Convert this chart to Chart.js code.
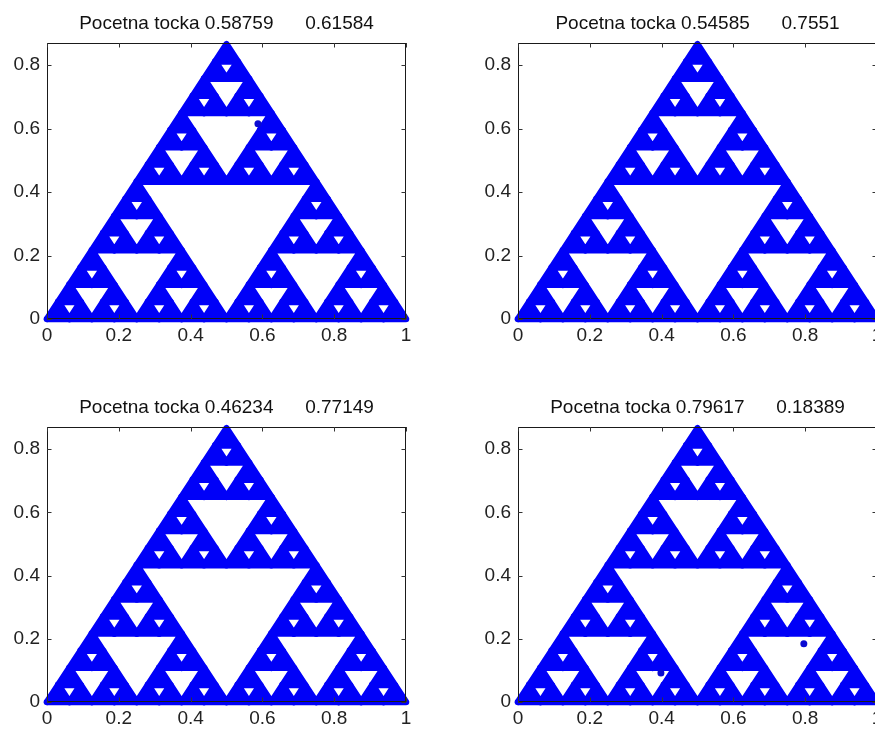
<!DOCTYPE html>
<html>
<head>
<meta charset="utf-8">
<script src="https://cdn.jsdelivr.net/npm/chart.js@4/dist/chart.umd.min.js"></script>
<style>
  html, body { margin: 0; padding: 0; background: #ffffff; overflow: hidden; }
  body { width: 875px; height: 730px; position: relative; }
  canvas { position: absolute; }
</style>
</head>
<body>
<canvas id="c0"></canvas>
<canvas id="c1"></canvas>
<canvas id="c2"></canvas>
<canvas id="c3"></canvas>
<script>
// Corners of the Sierpinski triangle and how many levels of removed triangles are visible
const cornerX = [0, 1, 0.5];
const cornerY = [0, 0, 0.866];
const holeDepth = 4;

// Starting point of each of the four runs (shown in the titles)
const startX = [0.58759, 0.54585, 0.46234, 0.79617];
const startY = [0.61584, 0.7551, 0.77149, 0.18389];

// Points of each run that land inside a removed triangle
const strayX = [[0.58759], [], [], [0.79617, 0.39809]];
const strayY = [[0.61584], [], [], [0.18389, 0.091945]];

// Axis ticks
const xTicks = [0, 0.2, 0.4, 0.6, 0.8, 1];
const xTickLabels = ['0', '0.2', '0.4', '0.6', '0.8', '1'];
const yTicks = [0, 0.2, 0.4, 0.6, 0.8];
const yTickLabels = ['0', '0.2', '0.4', '0.6', '0.8'];
const yMax = 0.87;

// Panel placement (canvas origin) and plot height per panel
const panels = [
  { left: 0,   top: 0,   plotH: 276 },
  { left: 471, top: 0,   plotH: 276 },
  { left: 0,   top: 384, plotH: 275 },
  { left: 471, top: 384, plotH: 275 }
];
const AXIS_W = 47, PLOT_W = 359, TITLE_H = 43, XAXIS_H = 40;

const BLUE = 'rgb(0,0,248)';
const DOT = 6.6;           // width of the plotted point trail along every edge
const FONT = "'Liberation Sans', Arial, sans-serif";

function mid(p, q) { return { x: (p.x + q.x) / 2, y: (p.y + q.y) / 2 }; }

// Removed (inverted) triangles, level by level
function collectHoles(a, b, c, depth, out) {
  if (depth === 0) return;
  const ab = mid(a, b), bc = mid(b, c), ca = mid(c, a);
  out.push([ab, bc, ca]);
  collectHoles(a, ab, ca, depth - 1, out);
  collectHoles(ab, b, bc, depth - 1, out);
  collectHoles(ca, bc, c, depth - 1, out);
}

const corners = cornerX.map((x, i) => ({ x: x, y: cornerY[i] }));
const holes = [];
collectHoles(corners[0], corners[1], corners[2], holeDepth, holes);

function closed(poly) { return poly.concat([poly[0]]); }

// Axes box with inward ticks on all four sides
const boxPlugin = {
  id: 'matlabBox',
  afterDraw(chart) {
    const { ctx, chartArea: a, scales } = chart;
    ctx.save();
    ctx.strokeStyle = '#1a1a1a';
    ctx.lineWidth = 1;
    ctx.strokeRect(a.left + 0.5, a.top + 0.5, a.right - a.left - 1, a.bottom - a.top - 1);
    ctx.strokeStyle = '#333';
    const tl = 4.5;
    ctx.beginPath();
    xTicks.forEach(v => {
      const px = Math.round(scales.x.getPixelForValue(v)) + 0.5;
      ctx.moveTo(px, a.bottom); ctx.lineTo(px, a.bottom - tl);
      ctx.moveTo(px, a.top); ctx.lineTo(px, a.top + tl);
    });
    yTicks.forEach(v => {
      const py = Math.round(scales.y.getPixelForValue(v)) + 0.5;
      ctx.moveTo(a.left, py); ctx.lineTo(a.left + tl, py);
      ctx.moveTo(a.right, py); ctx.lineTo(a.right - tl, py);
    });
    ctx.stroke();
    ctx.restore();
  }
};

panels.forEach((p, k) => {
  const canvas = document.getElementById('c' + k);
  const w = AXIS_W + PLOT_W + AXIS_W;
  const h = TITLE_H + p.plotH + XAXIS_H;
  canvas.width = w; canvas.height = h;
  canvas.style.left = p.left + 'px';
  canvas.style.top = p.top + 'px';
  canvas.style.width = w + 'px';
  canvas.style.height = h + 'px';

  // Drawing order: larger "order" is painted first
  const datasets = [];
  // filled triangle
  datasets.push({
    data: closed(corners), showLine: true, pointRadius: 0,
    borderWidth: 0, backgroundColor: BLUE,
    fill: 'shape', clip: false, order: 5
  });
  // removed triangles
  holes.forEach(t => {
    datasets.push({
      data: closed(t), showLine: true, pointRadius: 0,
      borderWidth: 0, backgroundColor: '#ffffff',
      fill: 'shape', clip: false, order: 4
    });
  });
  // point trail along the outer and inner edges
  [corners].concat(holes).forEach(t => {
    datasets.push({
      data: closed(t), showLine: true, pointRadius: 0,
      borderColor: BLUE, borderWidth: DOT,
      borderJoinStyle: 'round', borderCapStyle: 'round',
      fill: false, clip: false, order: 3
    });
  });
  if (strayX[k].length) {
    datasets.push({
      data: strayX[k].map((x, i) => ({ x: x, y: strayY[k][i] })),
      showLine: false,
      pointRadius: 3.5, pointStyle: 'circle',
      pointBackgroundColor: 'rgb(10,10,210)', pointBorderWidth: 0,
      clip: false, order: 1
    });
  }

  new Chart(canvas, {
    type: 'scatter',
    data: { datasets: datasets },
    plugins: [boxPlugin],
    options: {
      responsive: false,
      animation: false,
      devicePixelRatio: 1,
      events: [],
      layout: { padding: 0 },
      plugins: {
        legend: { display: false },
        tooltip: { enabled: false },
        title: {
          display: true,
          text: 'Pocetna tocka ' + startX[k] + '      ' + startY[k],
          color: '#111',
          font: { family: FONT, size: 19, weight: 'normal', lineHeight: 1.2 },
          padding: { top: 12, bottom: 8.2 }
        }
      },
      scales: {
        x: {
          type: 'linear', position: 'bottom', min: 0, max: 1,
          grid: { display: false, drawTicks: false },
          border: { display: false },
          afterBuildTicks: s => { s.ticks = xTicks.map(v => ({ value: v })); },
          afterFit: s => { s.height = XAXIS_H; },
          ticks: {
            autoSkip: false, maxRotation: 0, padding: 5, color: '#222',
            font: { family: FONT, size: 19 },
            callback: (v, i) => xTickLabels[i]
          }
        },
        y: {
          type: 'linear', position: 'left', min: 0, max: yMax,
          grid: { display: false, drawTicks: false },
          border: { display: false },
          afterBuildTicks: s => { s.ticks = yTicks.map(v => ({ value: v })); },
          afterFit: s => { s.width = AXIS_W; },
          ticks: {
            autoSkip: false, padding: 7, color: '#222',
            font: { family: FONT, size: 19 },
            callback: (v, i) => yTickLabels[i]
          }
        },
        yRight: {
          type: 'linear', position: 'right', min: 0, max: yMax,
          grid: { display: false, drawTicks: false },
          border: { display: false },
          afterFit: s => { s.width = AXIS_W; },
          ticks: { display: false }
        }
      }
    }
  });
});
</script>
</body>
</html>
